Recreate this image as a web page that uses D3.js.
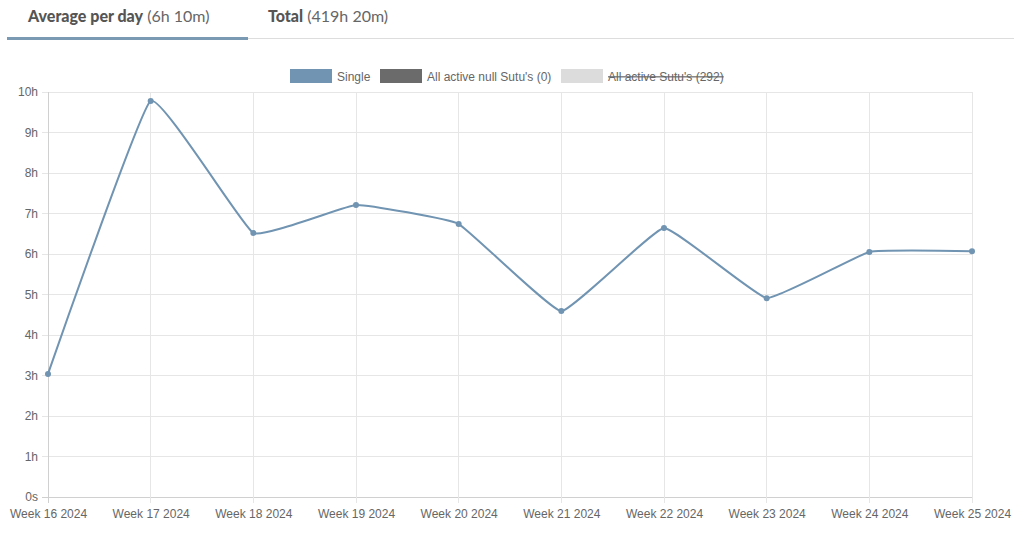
<!DOCTYPE html>
<html>
<head>
<meta charset="utf-8">
<script src="https://cdn.jsdelivr.net/npm/d3@7"></script>
<style>
  body { margin: 0; background: #fff; font-family: "Liberation Sans", Arial, sans-serif; }
  .tabs { position: absolute; left: 0; top: 0; width: 1024px; height: 42px; }
  .tab { position: absolute; top: 6px; font-family: Lato, "Open Sans", sans-serif; font-size: 16px; color: #555; }
  .tab b { font-weight: 900; }
  .tab span { font-weight: 400; color: #666; }
  .axis text { fill: #666; font-size: 12px; font-family: "Liberation Sans", Arial, sans-serif; }
</style>
</head>
<body>
<div class="tabs">
  <div class="tab" style="left:28px"><b>Average per day</b> <span>(6h 10m)</span></div>
  <div class="tab" style="left:268px"><b>Total</b> <span>(419h 20m)</span></div>
  <div style="position:absolute;left:7px;width:1007px;top:38px;height:1px;background:#ddd"></div>
  <div style="position:absolute;left:7px;width:241px;top:37px;height:3px;background:#7a9ab3"></div>
</div>
<div id="chart"></div>
<script>
// data
const weeks = ["Week 16 2024", "Week 17 2024", "Week 18 2024", "Week 19 2024", "Week 20 2024",
               "Week 21 2024", "Week 22 2024", "Week 23 2024", "Week 24 2024", "Week 25 2024"];
const singleHours = [3.04, 9.78, 6.52, 7.21, 6.74, 4.59, 6.64, 4.91, 6.05, 6.07];
const yTicks = [0, 1, 2, 3, 4, 5, 6, 7, 8, 9, 10];
const legendItems = [
    {name: "Single", color: "#7094b2", hidden: false},
    {name: "All active null Sutu's (0)", color: "#6b6b6b", hidden: false},
    {name: "All active Sutu's (292)", color: "#dcdcdc", hidden: true}
];

const margin = {top: 92, right: 52, bottom: 38, left: 48};
const width = 1024 - margin.left - margin.right,
    height = 535 - margin.top - margin.bottom;

const svg = d3.select("#chart").append("svg")
    .attr("width", 1024)
    .attr("height", 535)
    .style("position", "absolute")
    .style("left", 0).style("top", 0);

const g = svg.append("g")
    .attr("transform", "translate(" + margin.left + "," + margin.top + ")");

const x = d3.scalePoint().domain(weeks).range([0, width]);
const y = d3.scaleLinear().domain([0, 10]).range([height, 0]);

// grid
g.append("g").selectAll("line")
    .data(yTicks).enter().append("line")
    .attr("x1", -6).attr("x2", width)
    .attr("y1", d => y(d)).attr("y2", d => y(d))
    .attr("stroke", d => d === 0 ? "#d0d0d0" : "#e6e6e6")
    .attr("shape-rendering", "crispEdges");

g.append("g").selectAll("line")
    .data(weeks).enter().append("line")
    .attr("x1", d => x(d)).attr("x2", d => x(d))
    .attr("y1", 0).attr("y2", height + 6)
    .attr("stroke", (d, i) => i === 0 ? "#d0d0d0" : "#e6e6e6")
    .attr("shape-rendering", "crispEdges");

// axes (labels only)
const yAxis = d3.axisLeft(y).tickValues(yTicks)
    .tickFormat(d => d === 0 ? "0s" : d + "h").tickSize(0).tickPadding(10);
g.append("g").attr("class", "axis").call(yAxis).call(s => s.select(".domain").remove());

const xAxis = d3.axisBottom(x).tickSize(0).tickPadding(12);
g.append("g").attr("class", "axis")
    .attr("transform", "translate(0," + height + ")")
    .call(xAxis).call(s => s.select(".domain").remove());

// line - only slightly smoothed
const line = d3.line()
    .x((d, i) => x(weeks[i]))
    .y(d => y(d))
    .curve(d3.curveCardinal.tension(0.7));

g.append("path")
    .datum(singleHours)
    .attr("fill", "none")
    .attr("stroke", legendItems[0].color)
    .attr("stroke-width", 2)
    .attr("d", line);

g.selectAll(".dot")
    .data(singleHours).enter().append("circle")
    .attr("class", "dot")
    .attr("cx", (d, i) => x(weeks[i]))
    .attr("cy", d => y(d))
    .attr("r", 3)
    .attr("fill", legendItems[0].color);

// legend
const legendX = [290, 380, 561];
const leg = svg.append("g").selectAll("g")
    .data(legendItems).enter().append("g")
    .attr("transform", (d, i) => "translate(" + legendX[i] + ",69)");
leg.append("rect")
    .attr("width", 42).attr("height", 14)
    .attr("fill", d => d.color);
leg.append("text")
    .attr("x", 47).attr("y", 11.5)
    .attr("fill", "#666")
    .style("font-size", "12px")
    .style("text-decoration", d => d.hidden ? "line-through" : "none")
    .text(d => d.name);
</script>
</body>
</html>
